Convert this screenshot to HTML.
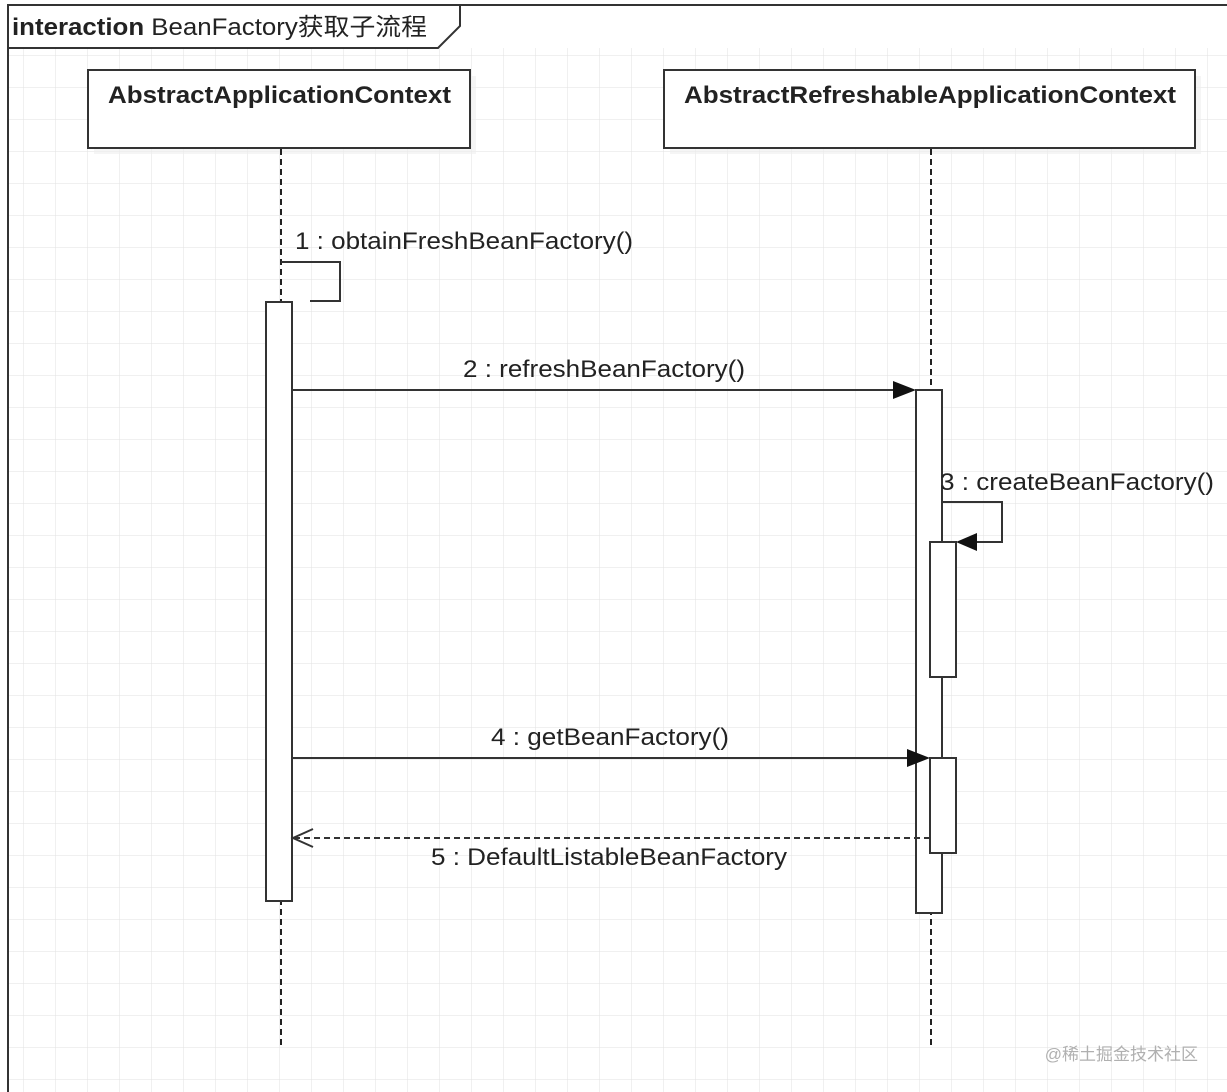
<!DOCTYPE html>
<html><head><meta charset="utf-8"><style>
html,body{margin:0;padding:0;background:#fff;}
svg{display:block;}
text{font-family:"Liberation Sans","Noto Sans CJK SC",sans-serif;fill:#222;}
</style></head><body>
<svg width="1227" height="1092" viewBox="0 0 1227 1092" xmlns="http://www.w3.org/2000/svg">
<defs>
<pattern id="g" x="23" y="23" width="32" height="32" patternUnits="userSpaceOnUse">
<path d="M0 0H32M0 0V32" stroke="#e2e2e2" stroke-width="1" fill="none"/>
</pattern>
</defs>
<rect width="1227" height="1092" fill="#fff"/>
<rect x="9" y="48" width="1218" height="1044" fill="url(#g)"/>
<path d="M8 1092V5H1227" fill="none" stroke="#333" stroke-width="2"/>
<path d="M8 48H438L460 26V5" fill="none" stroke="#333" stroke-width="2"/>
<text x="12" y="35" font-size="24" textLength="415" lengthAdjust="spacingAndGlyphs"><tspan font-weight="bold">interaction</tspan> BeanFactory获取子流程</text>
<rect x="94" y="76" width="382" height="78" fill="#eee" opacity="0.6"/>
<rect x="670" y="76" width="531" height="78" fill="#eee" opacity="0.6"/>
<rect x="88" y="70" width="382" height="78" fill="#fff" stroke="#333" stroke-width="2"/>
<rect x="664" y="70" width="531" height="78" fill="#fff" stroke="#333" stroke-width="2"/>
<text x="108" y="103" font-size="24" font-weight="bold" textLength="343" lengthAdjust="spacingAndGlyphs">AbstractApplicationContext</text>
<text x="684" y="103" font-size="24" font-weight="bold" textLength="492" lengthAdjust="spacingAndGlyphs">AbstractRefreshableApplicationContext</text>
<line x1="281" y1="149" x2="281" y2="1045" stroke="#222" stroke-width="2" stroke-dasharray="6,4"/>
<line x1="931" y1="149" x2="931" y2="1045" stroke="#222" stroke-width="2" stroke-dasharray="6,4"/>
<rect x="266" y="302" width="26" height="599" fill="#fff" stroke="#333" stroke-width="2"/>
<rect x="916" y="390" width="26" height="523" fill="#fff" stroke="#333" stroke-width="2"/>
<rect x="930" y="542" width="26" height="135" fill="#fff" stroke="#333" stroke-width="2"/>
<rect x="930" y="758" width="26" height="95" fill="#fff" stroke="#333" stroke-width="2"/>
<path d="M281 262H340V301H310" fill="none" stroke="#333" stroke-width="2"/>
<text x="295" y="249" font-size="24" textLength="338" lengthAdjust="spacingAndGlyphs">1 : obtainFreshBeanFactory()</text>
<line x1="292" y1="390" x2="900" y2="390" stroke="#333" stroke-width="2"/>
<path d="M893 381L916 390L893 399Z" fill="#111"/>
<text x="463" y="377" font-size="24" textLength="282" lengthAdjust="spacingAndGlyphs">2 : refreshBeanFactory()</text>
<path d="M942 502H1002V542H970" fill="none" stroke="#333" stroke-width="2"/>
<path d="M977 533L956 542L977 551Z" fill="#111"/>
<text x="940" y="490" font-size="24" textLength="274" lengthAdjust="spacingAndGlyphs">3 : createBeanFactory()</text>
<line x1="292" y1="758" x2="912" y2="758" stroke="#333" stroke-width="2"/>
<path d="M907 749L930 758L907 767Z" fill="#111"/>
<text x="491" y="745" font-size="24" textLength="238" lengthAdjust="spacingAndGlyphs">4 : getBeanFactory()</text>
<line x1="294" y1="838" x2="930" y2="838" stroke="#333" stroke-width="2" stroke-dasharray="6,4"/>
<path d="M313 829L293 838L313 847" fill="none" stroke="#333" stroke-width="2"/>
<text x="431" y="865" font-size="24" textLength="356" lengthAdjust="spacingAndGlyphs">5 : DefaultListableBeanFactory</text>
<text x="1198" y="1060" font-size="17" text-anchor="end" style="fill:#b0b0b0">@稀土掘金技术社区</text>
</svg>
</body></html>
